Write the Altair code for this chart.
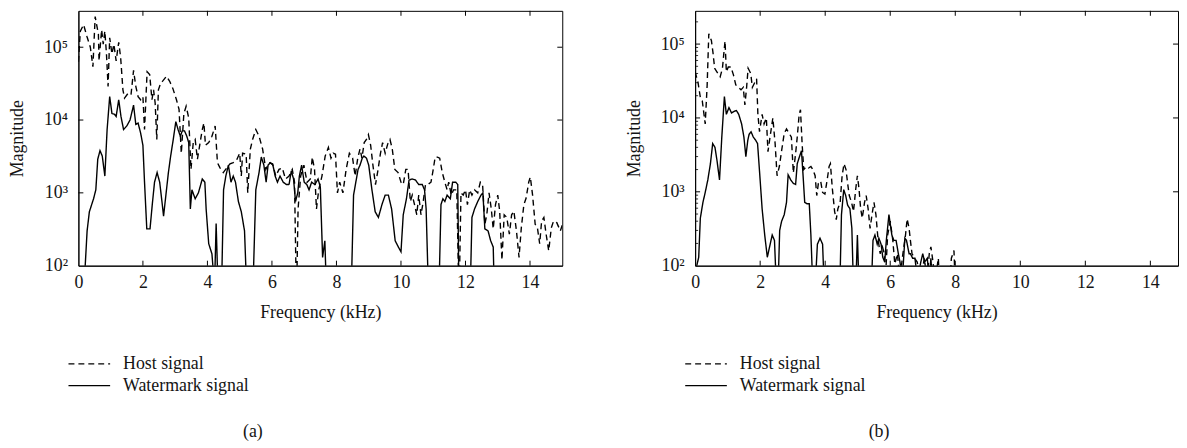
import altair as alt
import pandas as pd

FONT = "Liberation Serif"
INK = "#141414"

series_names = ["Host signal", "Watermark signal"]
captions = ["(a)", "(b)"]
x_label_values = [0, 2, 4, 6, 8, 10, 12, 14]
x_inner_ticks = [2, 4, 6, 8, 10, 12, 14]
y_label_values = [100, 1000, 10000, 100000]
y_major_ticks = [1000, 10000, 100000]
y_minor_ticks = [200, 300, 400, 500, 600, 700, 800, 900,
                 2000, 3000, 4000, 5000, 6000, 7000, 8000, 9000,
                 20000, 30000, 40000, 50000, 60000, 70000, 80000, 90000, 200000]

# ---------------- panel (a) ----------------
host_a_f = [0.0, 0.06, 0.16, 0.27, 0.37, 0.45, 0.52, 0.62, 0.64, 0.72, 0.77, 0.82, 0.87, 0.92, 0.97,
            1.04, 1.10, 1.17, 1.25, 1.31, 1.38, 1.43, 1.53, 1.63, 1.71, 1.78, 1.85, 1.93, 2.00, 2.05,
            2.13, 2.21, 2.28, 2.33, 2.38, 2.43, 2.48, 2.55, 2.63, 2.73, 2.83, 2.93, 3.04, 3.12, 3.19,
            3.27, 3.34, 3.42, 3.49, 3.56, 3.62, 3.69, 3.76, 3.84, 3.89, 3.94, 4.04, 4.14, 4.24, 4.31,
            4.39, 4.49, 4.60, 4.70, 4.80, 4.90, 5.00, 5.05, 5.09, 5.20, 5.25, 5.33, 5.40, 5.50, 5.60,
            5.71, 5.81, 5.91, 6.02, 6.12, 6.22, 6.32, 6.42, 6.53, 6.63, 6.70, 6.76, 6.81, 6.89, 6.99,
            7.09, 7.19, 7.25, 7.32, 7.38, 7.45, 7.55, 7.65, 7.75, 7.83, 7.90, 7.97, 8.03, 8.10, 8.20,
            8.30, 8.40, 8.50, 8.58, 8.66, 8.73, 8.79, 8.86, 8.93, 8.99, 9.06, 9.13, 9.21, 9.29, 9.36,
            9.43, 9.51, 9.59, 9.66, 9.73, 9.81, 9.91, 10.00, 10.07, 10.15, 10.22, 10.29, 10.35, 10.42,
            10.49, 10.55, 10.62, 10.69, 10.76, 10.83, 10.93, 11.00, 11.06, 11.13, 11.20, 11.28, 11.36,
            11.43, 11.48, 11.56, 11.63, 11.73, 11.80, 11.86, 11.93, 12.00, 12.06, 12.13, 12.20, 12.28,
            12.38, 12.46, 12.53, 12.60, 12.66, 12.73, 12.80, 12.86, 12.93, 13.00, 13.06, 13.13, 13.20,
            13.28, 13.36, 13.43, 13.50, 13.58, 13.66, 13.73, 13.81, 13.88, 13.96, 14.01, 14.08, 14.16,
            14.23, 14.30, 14.36, 14.43, 14.50, 14.58, 14.66, 14.73, 14.83, 14.94, 15.00]
host_a_v = [63000, 166000, 204000, 138000, 100000, 54000, 263000, 151000, 65000, 174000, 110000, 166000, 81000, 29000, 135000,
            81000, 110000, 65000, 117000, 72000, 26000, 20000, 23000, 22000, 48000, 29000, 21000, 19000, 21000, 7400,
            46000, 42000, 19000, 26000, 17000, 5400, 26000, 32000, 35000, 40000, 34000, 27000, 19000, 14000, 3500,
            12300, 15500, 10700, 2100, 4900, 5400, 2900, 4500, 7400, 9100, 4500, 4900, 6000, 8300, 2600,
            2200, 1900, 2200, 2500, 2600, 2800, 3500, 1700, 3500, 3400, 1000, 4000, 5400, 7400, 6000,
            4000, 2100, 2600, 2500, 1700, 2100, 2200, 1550, 1700, 2100, 1400, 32, 600, 1700, 2400,
            1400, 1550, 3100, 2100, 600, 1100, 1700, 3200, 4200, 3000, 3500, 3400, 1000, 1400, 1000,
            2100, 3500, 3000, 1700, 3000, 4000, 3000, 4900, 5400, 6300, 4500, 2400, 1300, 2100, 3400,
            4900, 3500, 4700, 5400, 4000, 2100, 1900, 1400, 1300, 2100, 2100, 760, 930, 690,
            500, 930, 500, 760, 1300, 1300, 1400, 2100, 3100, 3100, 3000, 1900, 1400,
            1100, 1400, 930, 1100, 1100, 32, 1000, 930, 1100, 690, 1100, 930, 1100,
            1000, 1400, 1300, 370, 500, 1000, 600, 320, 690, 930, 560, 120, 500,
            460, 270, 500, 560, 300, 130, 330, 690, 850, 1400, 1650, 930, 370,
            330, 200, 410, 460, 270, 160, 330, 410, 390, 300, 360]

wm_a_f = [0.15, 0.27, 0.34, 0.47, 0.54, 0.60, 0.67, 0.74, 0.82, 0.89, 0.97, 1.04, 1.12, 1.17, 1.25,
          1.32, 1.40, 1.50, 1.60, 1.71, 1.78, 1.85, 1.93, 2.00, 2.05, 2.12, 2.22, 2.29, 2.36, 2.44,
          2.52, 2.59, 2.64, 2.72, 2.79, 2.86, 2.94, 3.02, 3.09, 3.16, 3.22, 3.29, 3.36, 3.42, 3.47,
          3.52, 3.62, 3.72, 3.84, 3.92, 3.96, 4.04, 4.14, 4.22, 4.27, 4.34, 4.43, 4.50, 4.57, 4.65,
          4.73, 4.80, 4.87, 4.96, 5.05, 5.15, 5.23, 5.40, 5.50, 5.60, 5.67, 5.75, 5.82, 5.88, 5.95,
          6.03, 6.10, 6.17, 6.25, 6.35, 6.45, 6.53, 6.60, 6.67, 6.73, 6.80, 6.85, 6.92, 7.00, 7.08,
          7.15, 7.23, 7.33, 7.43, 7.50, 7.57, 7.64, 7.70, 8.45, 8.53, 8.60, 8.67, 8.73, 8.80, 8.85,
          8.93, 9.00, 9.10, 9.20, 9.30, 9.41, 9.51, 9.61, 9.71, 9.82, 9.92, 10.00, 10.07, 10.17, 10.25,
          10.35, 10.45, 10.55, 10.66, 10.73, 10.78, 10.86, 11.17, 11.24, 11.30, 11.36, 11.43, 11.53,
          11.60, 11.70, 11.76, 11.80, 12.14, 12.20, 12.28, 12.38, 12.48, 12.54, 12.60, 12.70, 12.78,
          12.86, 12.90]
wm_a_v = [32, 300, 550, 830, 1100, 2900, 3800, 3200, 1700, 7400, 21000, 12300, 12000, 11200, 19000,
          11200, 7400, 8300, 10000, 16000, 8700, 9100, 6600, 4500, 1400, 320, 320, 690, 1400, 1900,
          1400, 760, 480, 1000, 1900, 3200, 5400, 9500, 7400, 6000, 7100, 7100, 6000, 4900, 600,
          1100, 830, 1000, 1550, 1400, 600, 200, 145, 50, 380, 32, 32, 1100, 1700, 2400,
          1400, 1700, 1400, 760, 550, 300, 32, 32, 1100, 1900, 3100, 2400, 1400, 2400, 2600,
          2400, 1700, 1400, 1700, 1400, 1300, 1300, 2000, 1550, 760, 1000, 1700, 2400, 1400, 1300,
          1100, 1400, 1300, 1550, 1200, 130, 220, 32, 32, 930, 1400, 2100, 2400, 3000, 3200,
          3000, 2400, 1100, 550, 460, 690, 930, 930, 600, 220, 180, 155, 500, 830, 1500,
          1550, 1500, 1300, 1300, 1100, 600, 32, 32, 690, 830, 760, 930, 830,
          1400, 1400, 1300, 32, 32, 460, 600, 760, 930, 1000, 320, 300, 220,
          180, 32]

# ---------------- panel (b) ----------------
host_b_f = [0.00, 0.09, 0.16, 0.22, 0.31, 0.37, 0.42, 0.50, 0.55, 0.60, 0.70, 0.77, 0.84, 0.89, 0.92,
            0.96, 1.02, 1.10, 1.18, 1.25, 1.33, 1.41, 1.48, 1.53, 1.58, 1.63, 1.71, 1.76, 1.83, 1.89,
            1.93, 1.98, 2.06, 2.12, 2.19, 2.24, 2.32, 2.39, 2.46, 2.52, 2.59, 2.66, 2.74, 2.81, 2.89,
            2.96, 3.02, 3.09, 3.14, 3.20, 3.24, 3.29, 3.34, 3.42, 3.49, 3.56, 3.62, 3.69, 3.74, 3.79,
            3.86, 3.92, 3.99, 4.06, 4.12, 4.16, 4.22, 4.29, 4.34, 4.39, 4.46, 4.52, 4.58, 4.64, 4.69,
            4.74, 4.81, 4.87, 4.94, 4.99, 5.04, 5.09, 5.14, 5.21, 5.26, 5.32, 5.38, 5.44, 5.50, 5.56,
            5.62, 5.69, 5.76, 5.82, 5.85, 5.92, 6.00, 6.08, 6.14, 6.22, 6.30, 6.37, 6.47, 6.52, 6.58,
            6.62, 6.67, 6.75, 6.83, 6.93, 7.05, 7.13, 7.20, 7.25, 7.30, 7.38, 7.48, 7.53, 7.81, 7.88,
            7.96, 8.01]
host_b_v = [42000, 30000, 19000, 17000, 8300, 28000, 138000, 112000, 76000, 47000, 40000, 36000, 47000, 81000, 110000,
            42000, 49000, 49000, 38000, 28000, 26000, 24000, 26000, 15000, 25000, 47000, 40000, 26000, 30000, 34000,
            11200, 6500, 11200, 8300, 10000, 3500, 6200, 10000, 4500, 1650, 2200, 3600, 6200, 7100, 6200,
            5500, 1800, 3300, 5500, 11200, 12900, 4500, 2000, 2200, 2100, 2200, 2000, 1650, 890, 1300,
            1400, 980, 930, 1450, 2200, 2400, 1100, 540, 420, 590, 720, 1650, 2400, 2000, 1300,
            890, 720, 540, 1100, 1650, 1100, 590, 440, 720, 890, 590, 320, 490, 720, 490,
            240, 145, 180, 145, 63, 260, 400, 220, 105, 145, 63, 126, 260, 430, 320,
            220, 145, 126, 112, 63, 126, 63, 145, 180, 126, 63, 126, 40, 40, 126,
            160, 40]

wm_b_f = [0.00, 0.11, 0.16, 0.24, 0.31, 0.39, 0.47, 0.54, 0.61, 0.67, 0.75, 0.82, 0.90, 0.96, 1.04,
          1.12, 1.20, 1.27, 1.34, 1.43, 1.50, 1.56, 1.62, 1.66, 1.72, 1.79, 1.86, 1.92, 1.99, 2.06,
          2.14, 2.22, 2.29, 2.37, 2.44, 2.50, 2.55, 2.60, 2.66, 2.74, 2.81, 2.86, 2.94, 3.02, 3.09,
          3.14, 3.21, 3.27, 3.32, 3.37, 3.44, 3.51, 3.56, 3.62, 3.69, 3.76, 3.84, 3.92, 3.97, 4.45,
          4.50, 4.57, 4.63, 4.69, 4.76, 4.82, 4.87, 4.94, 4.99, 5.04, 5.42, 5.47, 5.53, 5.60, 5.65,
          5.72, 5.77, 5.83, 5.88, 5.96, 6.05, 6.11, 6.18, 6.25, 6.30, 6.37, 6.45, 6.50, 6.58, 6.62,
          6.69, 6.76, 6.84, 6.94, 7.00, 7.06, 7.14, 7.20, 7.25, 7.31]
wm_b_v = [80, 130, 440, 720, 980, 1450, 2400, 4500, 4000, 2700, 1450, 5500, 19500, 11200, 13800,
          11700, 12300, 12600, 11200, 8300, 5500, 3000, 5000, 6000, 6500, 5500, 5000, 4500, 1650, 590,
          260, 130, 180, 260, 220, 50, 50, 300, 400, 490, 720, 1700, 1450, 1300, 1260,
          2400, 3000, 3600, 1650, 720, 690, 690, 260, 50, 50, 195, 235, 195, 50, 50,
          490, 1070, 890, 660, 590, 320, 50, 50, 260, 50, 50, 220, 260, 195, 235,
          195, 130, 112, 220, 490, 260, 220, 220, 145, 112, 63, 235, 220, 145, 145,
          126, 126, 63, 112, 145, 112, 126, 63, 126, 50]

SUPS = {100: "10\u00b2", 1000: "10\u00b3", 10000: "10\u2074", 100000: "10\u2075"}
label_expr = " : ".join(
    [f"datum.value == {k} ? '{v}'" for k, v in SUPS.items()]) + " : ''"


def panel(hf, hv, wf, wv, xmax, ymax, width, height, caption, cap_dx, minor):
    df = pd.concat([
        pd.DataFrame({"f": hf, "v": hv, "s": series_names[0]}),
        pd.DataFrame({"f": wf, "v": wv, "s": series_names[1]}),
    ])
    xs = alt.Scale(domain=[0, xmax], nice=False, zero=False)
    ys = alt.Scale(type="log", domain=[100, ymax], nice=False)
    xaxis = alt.Axis(values=x_label_values, ticks=False, grid=False, title="Frequency (kHz)",
                     labelPadding=8, titlePadding=12, labelFlush=False, labelOverlap=False)
    yaxis = alt.Axis(values=y_label_values, ticks=False, grid=False, title="Magnitude",
                     labelExpr=label_expr, labelPadding=11, titlePadding=17,
                     labelFlush=False, labelOverlap=False)
    X = alt.X("f:Q", scale=xs, axis=xaxis)
    Y = alt.Y("v:Q", scale=ys, axis=yaxis)

    lines = alt.Chart(df).mark_line(clip=True, strokeWidth=1.4, color="black").encode(
        x=X, y=Y,
        strokeDash=alt.StrokeDash(
            "s:N",
            scale=alt.Scale(domain=series_names, range=[[6, 4], [1, 0]]),
            legend=alt.Legend(title=None, orient="none", legendX=-11, legendY=346,
                              direction="vertical", symbolType="stroke", symbolSize=1764,
                              symbolStrokeWidth=1.3, symbolStrokeColor="black",
                              clipHeight=20, rowPadding=2, padding=0,
                              labelFont=FONT, labelFontSize=18, labelOffset=12,
                              labelColor=INK),
        ),
    )
    xt = pd.DataFrame({"f": x_inner_ticks})
    yt = pd.DataFrame({"v": y_major_ticks})
    rule = dict(color="black", strokeWidth=1)
    top = alt.Chart(xt).mark_rule(**rule).encode(x=X, y=alt.value(0), y2=alt.value(5))
    bot = alt.Chart(xt).mark_rule(**rule).encode(x=X, y=alt.value(height), y2=alt.value(height - 5))
    left = alt.Chart(yt).mark_rule(**rule).encode(y=Y, x=alt.value(0), x2=alt.value(5))
    right = alt.Chart(yt).mark_rule(**rule).encode(y=Y, x=alt.value(width - 5), x2=alt.value(width))
    layers = [lines, top, bot, left, right]
    if minor:
        ym = pd.DataFrame({"v": [t for t in y_minor_ticks if t < ymax]})
        layers.append(alt.Chart(ym).mark_rule(color="black", strokeWidth=0.8).encode(
            y=Y, x=alt.value(0), x2=alt.value(3)))
    return alt.layer(*layers).properties(
        width=width, height=height,
        title=alt.TitleParams(text=caption, orient="bottom", anchor="middle", dx=cap_dx,
                              offset=28, font=FONT, fontSize=18, fontWeight="normal",
                              color=INK),
    )


pa = panel(host_a_f, host_a_v, wm_a_f, wm_a_v, 15, 316000, 488, 257, captions[0], -68, False)
pb = panel(host_b_f, host_b_v, wm_b_f, wm_b_v, 14.85, 282000, 487, 257, captions[1], -58, True)

chart = alt.hconcat(pa, pb, spacing=62).resolve_scale(
    x="independent", y="independent", strokeDash="independent"
).resolve_legend(strokeDash="independent").properties(
    padding={"left": 0, "top": 0, "right": 0, "bottom": 0}
).configure_view(stroke="black", strokeWidth=1).configure_axis(
    labelFont=FONT, labelFontSize=18, labelColor=INK,
    titleFont=FONT, titleFontSize=18, titleFontWeight="normal", titleColor=INK,
    domainColor="black", domainWidth=1,
)

chart.save("out.html", embed_options={"renderer": "svg", "actions": False})
